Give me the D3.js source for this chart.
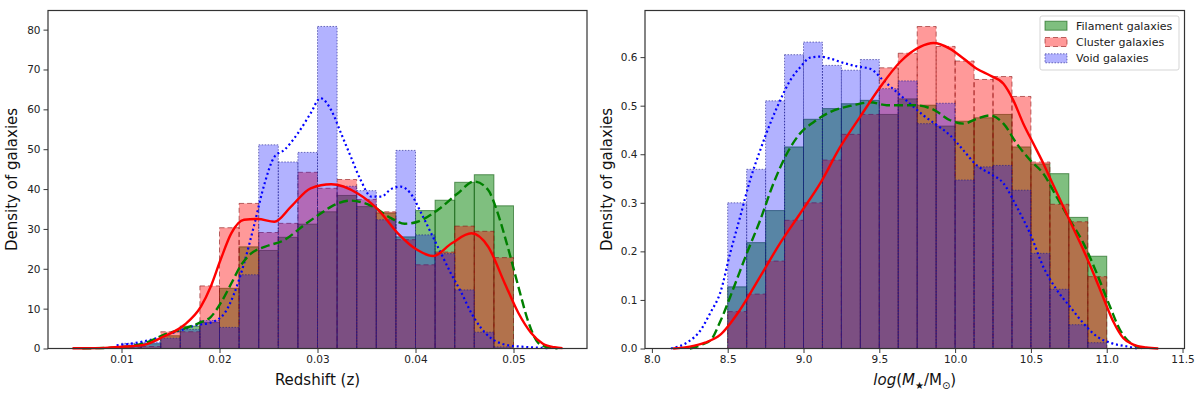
<!DOCTYPE html>
<html>
<head>
<meta charset="utf-8">
<script src="https://cdn.jsdelivr.net/npm/d3@7"></script>
<style>
  body { margin: 0; background: #fff; }
  svg { display: block; font-family: "DejaVu Sans", sans-serif; }
</style>
</head>
<body>
<svg id="chart" width="1200" height="396"></svg>
<script>
// redshift histogram bins (left panel)
const zEdges = [0.010, 0.012, 0.014, 0.016, 0.018, 0.020, 0.022, 0.024, 0.026, 0.028, 0.030,
  0.032, 0.034, 0.036, 0.038, 0.040, 0.042, 0.044, 0.046, 0.048, 0.050]
const zFilament = [0.5, 1.2, 3.2, 5.6, 6.5, 15.1, 25.5, 24.6, 27.9, 31.2, 34.3, 38.4, 35.6, 34.0, 28.0, 34.6, 37.2, 41.7, 43.6, 35.8]
const zCluster = [0.3, 0.5, 4.2, 4.2, 15.7, 30.3, 36.4, 29.1, 31.4, 44.2, 40.2, 42.4, 37.4, 34.3, 27.3, 21.0, 24.2, 30.7, 29.4, 22.8]
const zVoid = [1.3, 1.6, 2.6, 4.8, 7.0, 5.3, 18.5, 51.1, 46.8, 49.2, 80.8, 40.7, 39.6, 32.3, 49.7, 28.5, 23.8, 14.7, 4.1, 0.4]

// redshift KDE curves, [z, density]
const zKdeFilament = [[0.006, 0.05], [0.009, 0.2], [0.0123, 1.3], [0.0143, 3.4], [0.0164, 5.0], [0.0181, 6.6],
  [0.0191, 7.9], [0.0201, 11.3], [0.0212, 16.3], [0.0222, 20.9], [0.0232, 23.8], [0.0246, 25.5], [0.0266, 27.2],
  [0.0286, 30.9], [0.0304, 34.0], [0.0314, 35.6], [0.0334, 37.1], [0.0355, 35.8], [0.0375, 32.7], [0.0389, 31.3],
  [0.0402, 31.8], [0.0423, 34.8], [0.0443, 38.9], [0.046, 41.9], [0.0474, 39.8], [0.0484, 33.9], [0.0494, 25.6],
  [0.0505, 15.5], [0.0515, 6.8], [0.0525, 1.5], [0.0535, 0.3], [0.0545, 0.05]]
const zKdeCluster = [[0.005, 0.05], [0.0075, 0.1], [0.0089, 0.25], [0.0105, 0.5], [0.0123, 0.9], [0.0143, 3.0],
  [0.0164, 5.9], [0.0181, 10.5], [0.0191, 15.5], [0.0201, 22.2], [0.0212, 28.9], [0.0225, 32.3], [0.0239, 32.5],
  [0.0256, 31.8], [0.0273, 35.6], [0.0293, 40.2], [0.0314, 41.2], [0.0341, 38.9], [0.0362, 34.8], [0.0382, 28.9],
  [0.0402, 24.7], [0.0418, 23.2], [0.0437, 26.4], [0.0457, 28.9], [0.0474, 25.6], [0.0491, 16.4], [0.0505, 8.9],
  [0.0518, 3.9], [0.053, 1.2], [0.0542, 0.3], [0.055, 0.1]]
const zKdeVoid = [[0.0095, 0.8], [0.0109, 1.2], [0.0123, 1.8], [0.0136, 2.6], [0.0157, 4.3], [0.0177, 5.9],
  [0.0191, 6.5], [0.0205, 8.8], [0.0215, 13.8], [0.0225, 21.3], [0.0235, 30.6], [0.0246, 41.4], [0.0256, 48.1],
  [0.0266, 49.8], [0.028, 54.0], [0.0293, 59.0], [0.0303, 62.8], [0.0314, 59.8], [0.0324, 54.0], [0.0334, 48.1],
  [0.0344, 42.3], [0.0355, 38.1], [0.0365, 38.1], [0.0375, 40.0], [0.0385, 40.6], [0.0395, 38.9], [0.0406, 33.9],
  [0.0416, 28.9], [0.0426, 23.9], [0.0436, 18.9], [0.0447, 13.9], [0.0457, 8.9], [0.0467, 5.1], [0.0477, 2.6],
  [0.0488, 1.2], [0.0498, 0.7], [0.0512, 0.4], [0.0525, 0.2], [0.0535, 0.1]]

// stellar mass histogram bins (right panel)
const mEdges = [8.5, 8.625, 8.75, 8.875, 9.0, 9.125, 9.25, 9.375, 9.5, 9.625, 9.75,
  9.875, 10.0, 10.125, 10.25, 10.375, 10.5, 10.625, 10.75, 10.875, 11.0]
const mFilament = [0.127, 0.218, 0.284, 0.415, 0.472, 0.494, 0.504, 0.511, 0.482, 0.514, 0.501, 0.458, 0.468, 0.475, 0.482, 0.415, 0.380, 0.360, 0.270, 0.190]
const mCluster = [0.076, 0.112, 0.180, 0.264, 0.300, 0.388, 0.441, 0.482, 0.578, 0.608, 0.663, 0.622, 0.592, 0.554, 0.560, 0.519, 0.384, 0.297, 0.261, 0.148]
const mVoid = [0.300, 0.369, 0.510, 0.605, 0.631, 0.583, 0.573, 0.595, 0.535, 0.551, 0.463, 0.505, 0.347, 0.374, 0.377, 0.326, 0.196, 0.122, 0.049, 0.012]

// stellar mass KDE curves, [log M, density]
const mKdeFilament = [[8.25, 0.0], [8.33, 0.008], [8.39, 0.018], [8.45, 0.055], [8.538, 0.124], [8.626, 0.196],
  [8.714, 0.264], [8.802, 0.340], [8.89, 0.401], [8.978, 0.443], [9.066, 0.466], [9.176, 0.487], [9.33, 0.501],
  [9.44, 0.507], [9.549, 0.501], [9.725, 0.501], [9.857, 0.492], [9.967, 0.470], [10.055, 0.463], [10.143, 0.473],
  [10.231, 0.480], [10.319, 0.463], [10.406, 0.422], [10.494, 0.388], [10.582, 0.360], [10.67, 0.312],
  [10.758, 0.264], [10.846, 0.217], [10.934, 0.155], [11.022, 0.086], [11.088, 0.038], [11.154, 0.012], [11.25, 0.0]]
const mKdeCluster = [[8.14, 0.0], [8.25, 0.004], [8.35, 0.012], [8.45, 0.028], [8.582, 0.080], [8.714, 0.148],
  [8.846, 0.217], [8.978, 0.278], [9.11, 0.340], [9.242, 0.415], [9.373, 0.477], [9.505, 0.538], [9.637, 0.590],
  [9.769, 0.621], [9.857, 0.629], [9.967, 0.617], [10.055, 0.597], [10.143, 0.576], [10.231, 0.562],
  [10.319, 0.545], [10.384, 0.511], [10.45, 0.463], [10.516, 0.422], [10.582, 0.381], [10.648, 0.336],
  [10.714, 0.292], [10.78, 0.247], [10.846, 0.203], [10.912, 0.155], [10.978, 0.104], [11.044, 0.055],
  [11.11, 0.021], [11.176, 0.008], [11.26, 0.002], [11.34, 0.0]]
const mKdeVoid = [[8.126, 0.0], [8.24, 0.014], [8.315, 0.035], [8.39, 0.076], [8.45, 0.114], [8.516, 0.196],
  [8.582, 0.271], [8.648, 0.347], [8.714, 0.408], [8.78, 0.463], [8.846, 0.511], [8.912, 0.552], [8.978, 0.579],
  [9.044, 0.599], [9.11, 0.601], [9.176, 0.597], [9.264, 0.588], [9.352, 0.581], [9.44, 0.576], [9.527, 0.552],
  [9.615, 0.528], [9.703, 0.504], [9.791, 0.480], [9.879, 0.460], [9.967, 0.439], [10.055, 0.408],
  [10.143, 0.377], [10.231, 0.360], [10.319, 0.340], [10.406, 0.292], [10.494, 0.237], [10.582, 0.168],
  [10.67, 0.121], [10.758, 0.086], [10.846, 0.052], [10.934, 0.025], [11.022, 0.012], [11.154, 0.003], [11.2, 0.0]]

const zTicks = [0.01, 0.02, 0.03, 0.04, 0.05]
const zYTicks = [0, 10, 20, 30, 40, 50, 60, 70, 80]
const mTicks = [8.0, 8.5, 9.0, 9.5, 10.0, 10.5, 11.0, 11.5]
const mYTicks = [0, 0.1, 0.2, 0.3, 0.4, 0.5, 0.6]

const legendLabels = ['Filament galaxies', 'Cluster galaxies', 'Void galaxies']

// bar and line styles per population
const STYLES = {
  filament: { fill: 'green', fillOpacity: 0.5, edge: '#0b5a0b', edgeOpacity: 0.6, dash: null, line: 'green', lineDash: '9,4' },
  cluster: { fill: 'red', fillOpacity: 0.4, edge: '#8b1010', edgeOpacity: 0.6, dash: '5,3', line: 'red', lineDash: null },
  void: { fill: 'blue', fillOpacity: 0.3, edge: '#1a1a8b', edgeOpacity: 0.6, dash: '1.5,1.5', line: 'blue', lineDash: '2,2.8' }
}

const svg = d3.select('#chart')

const drawPanel = (cfg) => {
  const { x, y, xTicks, yTicks, xFmt, yFmt, edges, series, kdes } = cfg
  const g = svg.append('g')
  const [x0, x1] = x.range()
  const [y0, y1] = y.range()

  // histograms, drawn green -> red -> blue so the alphas stack the same way
  series.forEach(({ values, style }) => {
    g.append('g')
      .selectAll('rect')
      .data(values)
      .join('rect')
      .attr('x', (d, i) => x(edges[i]))
      .attr('width', (d, i) => x(edges[i + 1]) - x(edges[i]))
      .attr('y', (d) => y(d))
      .attr('height', (d) => y(0) - y(d))
      .attr('fill', style.fill)
      .attr('fill-opacity', style.fillOpacity)
      .attr('stroke', style.edge)
      .attr('stroke-opacity', style.edgeOpacity)
      .attr('stroke-width', 1)
      .attr('stroke-dasharray', style.dash)
  })

  // kde lines
  const line = d3.line()
    .x((d) => x(d[0]))
    .y((d) => y(d[1]))
    .curve(d3.curveMonotoneX)

  kdes.forEach(({ points, style }) => {
    g.append('path')
      .datum(points)
      .attr('d', line)
      .attr('fill', 'none')
      .attr('stroke', style.line)
      .attr('stroke-width', style.lineDash === '2,2.8' ? 2.2 : 2.4)
      .attr('stroke-dasharray', style.lineDash)
  })

  // axes
  const xAxis = d3.axisBottom(x).tickValues(xTicks).tickFormat(xFmt).tickSize(4.5).tickPadding(3)
  const yAxis = d3.axisLeft(y).tickValues(yTicks).tickFormat(yFmt).tickSize(4.5).tickPadding(3)

  const styleAxis = (sel) => {
    sel.select('.domain').remove()
    sel.selectAll('.tick line').attr('stroke', '#222').attr('stroke-width', 0.9)
    sel.selectAll('.tick text').attr('fill', '#222').style('font-size', '10.5px')
      .style('font-family', '"DejaVu Sans", sans-serif')
  }

  g.append('g')
    .attr('transform', `translate(0,${y0})`)
    .call(xAxis)
    .call(styleAxis)

  g.append('g')
    .attr('transform', `translate(${x0},0)`)
    .call(yAxis)
    .call(styleAxis)

  // frame
  g.append('rect')
    .attr('x', x0)
    .attr('y', y1)
    .attr('width', x1 - x0)
    .attr('height', y0 - y1)
    .attr('fill', 'none')
    .attr('stroke', '#333')
    .attr('stroke-width', 1.2)

  return g
}

// left panel: redshift
const xz = d3.scaleLinear().domain([0.0025, 0.0575]).range([48, 587])
const yz = d3.scaleLinear().domain([0, 84.8]).range([348.5, 10.5])

const left = drawPanel({
  x: xz, y: yz, xTicks: zTicks, yTicks: zYTicks,
  xFmt: d3.format('.2f'), yFmt: d3.format('d'),
  edges: zEdges,
  series: [
    { values: zFilament, style: STYLES.filament },
    { values: zCluster, style: STYLES.cluster },
    { values: zVoid, style: STYLES.void }
  ],
  kdes: [
    { points: zKdeVoid, style: STYLES.void },
    { points: zKdeFilament, style: STYLES.filament },
    { points: zKdeCluster, style: STYLES.cluster }
  ]
})

left.append('text')
  .attr('x', (xz.range()[0] + xz.range()[1]) / 2)
  .attr('y', 385)
  .attr('text-anchor', 'middle')
  .style('font-size', '15px')
  .attr('fill', '#111')
  .text('Redshift (z)')

left.append('text')
  .attr('transform', `translate(17,${(yz.range()[0] + yz.range()[1]) / 2}) rotate(-90)`)
  .attr('text-anchor', 'middle')
  .style('font-size', '15px')
  .attr('fill', '#111')
  .text('Density of galaxies')

// right panel: stellar mass
const xm = d3.scaleLinear().domain([7.9545, 11.513]).range([645, 1184.5])
const ym = d3.scaleLinear().domain([0, 0.696]).range([348.5, 10.5])

const right = drawPanel({
  x: xm, y: ym, xTicks: mTicks, yTicks: mYTicks,
  xFmt: d3.format('.1f'), yFmt: d3.format('.1f'),
  edges: mEdges,
  series: [
    { values: mFilament, style: STYLES.filament },
    { values: mCluster, style: STYLES.cluster },
    { values: mVoid, style: STYLES.void }
  ],
  kdes: [
    { points: mKdeVoid, style: STYLES.void },
    { points: mKdeFilament, style: STYLES.filament },
    { points: mKdeCluster, style: STYLES.cluster }
  ]
})

// x label with mathtext-like subscripts
const mLabel = right.append('text')
  .attr('x', (xm.range()[0] + xm.range()[1]) / 2)
  .attr('y', 385)
  .attr('text-anchor', 'middle')
  .style('font-size', '15px')
  .attr('fill', '#111')
mLabel.append('tspan').style('font-style', 'italic').text('log')
mLabel.append('tspan').text('(')
mLabel.append('tspan').style('font-style', 'italic').text('M')
mLabel.append('tspan').attr('dy', 4).style('font-size', '10px').text('★')
mLabel.append('tspan').attr('dy', -4).text('/M')
mLabel.append('tspan').attr('dy', 4).style('font-size', '10px').text('⊙')
mLabel.append('tspan').attr('dy', -4).text(')')

right.append('text')
  .attr('transform', `translate(612,${(ym.range()[0] + ym.range()[1]) / 2}) rotate(-90)`)
  .attr('text-anchor', 'middle')
  .style('font-size', '15px')
  .attr('fill', '#111')
  .text('Density of galaxies')

// legend
const legend = right.append('g').attr('transform', 'translate(1040,16)')
legend.append('rect')
  .attr('width', 139)
  .attr('height', 54)
  .attr('rx', 2)
  .attr('fill', '#fff')
  .attr('fill-opacity', 0.8)
  .attr('stroke', '#d0d0d0')
  .attr('stroke-width', 0.9)

const legendStyles = [STYLES.filament, STYLES.cluster, STYLES.void]
const rows = legend.selectAll('g.row')
  .data(legendLabels)
  .join('g')
  .attr('class', 'row')
  .attr('transform', (d, i) => `translate(5,${9.7 + i * 16.3})`)

rows.append('rect')
  .attr('x', 0)
  .attr('y', -4.5)
  .attr('width', 22)
  .attr('height', 9)
  .attr('fill', (d, i) => legendStyles[i].fill)
  .attr('fill-opacity', (d, i) => legendStyles[i].fillOpacity)
  .attr('stroke', (d, i) => legendStyles[i].edge)
  .attr('stroke-opacity', (d, i) => legendStyles[i].edgeOpacity)
  .attr('stroke-dasharray', (d, i) => legendStyles[i].dash)

rows.append('text')
  .attr('x', 31)
  .attr('dy', '0.35em')
  .style('font-size', '11px')
  .attr('fill', '#222')
  .text((d) => d)
</script>
</body>
</html>
